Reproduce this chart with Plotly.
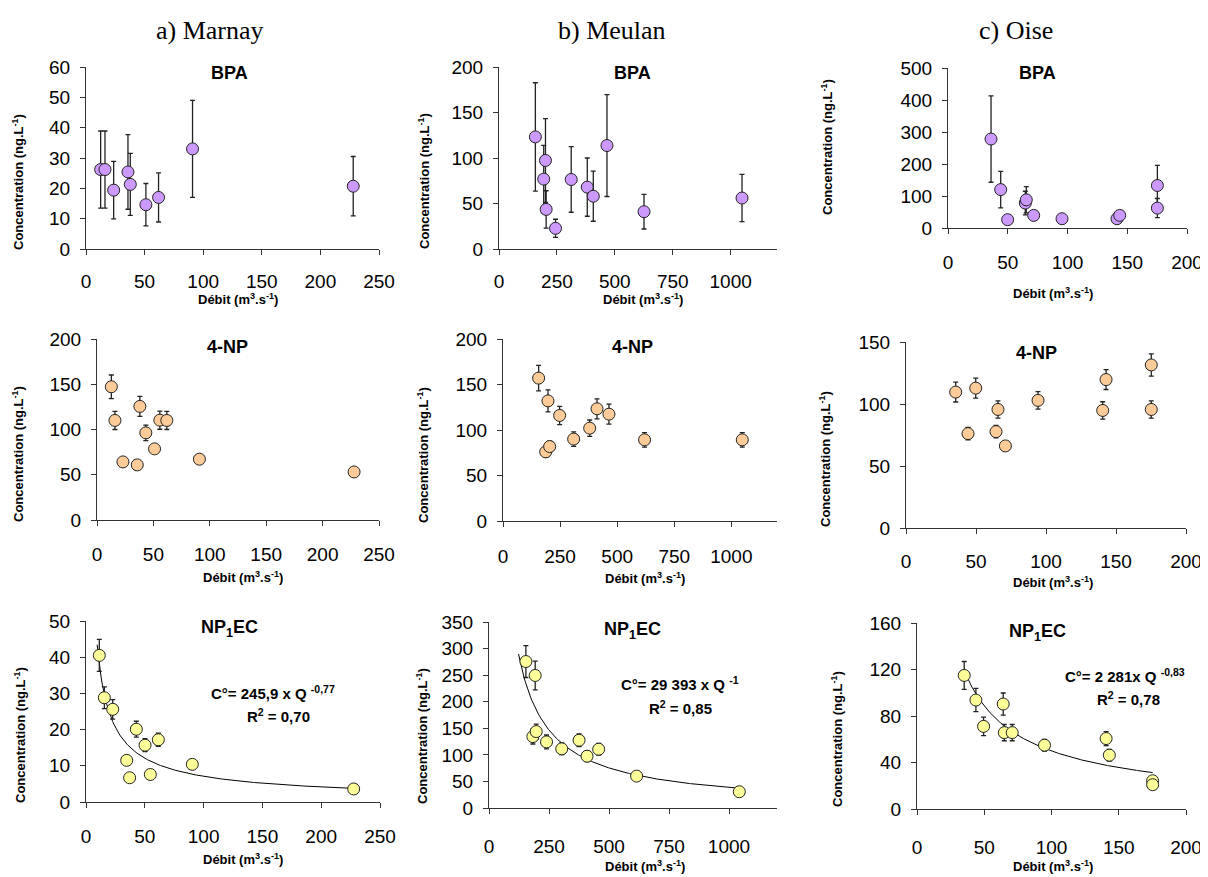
import numpy as np
import plotly.graph_objects as go

W, H = 1208, 877          # page size
OFF = 8                   # page offset of the plot div (body margin)
FW, FH = W - OFF, H - OFF

# ---------------- data ----------------
sites = ["a) Marnay", "b) Meulan", "c) Oise"]
compounds = ["BPA", "4-NP", "NP<sub>1</sub>EC"]

marnay_bpa_q = [12.5, 16.2, 23.6, 35.8, 37.8, 51.1, 61.9, 90.9, 228]
marnay_bpa_c = [26.2, 26.2, 19.4, 25.4, 21.3, 14.6, 17.0, 33.0, 20.7]
marnay_bpa_e = [12.7, 12.7, 9.5, 12.3, 10.2, 7.0, 8.1, 16.0, 9.8]

marnay_np_q = [12.7, 15.9, 23.0, 35.7, 38.0, 43.3, 51.0, 55.7, 61.9, 90.8, 227.9]
marnay_np_c = [147.2, 110.0, 64.2, 60.9, 125.5, 96.3, 78.6, 110.3, 110.0, 67.2, 53.1]
marnay_np_e = [13, 10, 4, 4, 11, 8.5, 5, 10, 10, 4, 3]

marnay_ec_q = [11.3, 15.6, 22.7, 34.6, 37.1, 42.8, 50.2, 54.7, 61.5, 90.4, 227.6]
marnay_ec_c = [40.5, 28.8, 25.6, 11.5, 6.7, 20.1, 15.7, 7.6, 17.2, 10.4, 3.6]
marnay_ec_e = [4.4, 3.0, 2.7, 1.0, 0.6, 2.2, 1.8, 0.7, 1.8, 1.0, 0.3]

meulan_bpa_q = [157, 193, 200.6, 203.5, 244, 311.7, 381, 407, 466, 626, 1049]
meulan_bpa_c = [123.2, 76.8, 97.3, 43.5, 22.7, 76.4, 68, 58, 113.7, 41, 56]
meulan_bpa_e = [59.5, 37, 46, 20.5, 10, 36, 32, 27.5, 56, 19, 26]

meulan_np_q = [156, 187, 197, 204.4, 248, 309.5, 379.6, 411.7, 464, 620, 1048]
meulan_np_c = [157, 76, 132, 81.8, 116, 90, 102, 123.3, 117.4, 89.2, 89.2]
meulan_np_e = [14, 6, 12, 6, 10, 8, 9, 11, 11, 8, 8]

meulan_ec_q = [153.7, 182.8, 192.5, 196.7, 239.6, 303, 375.3, 408.6, 457, 615, 1043]
meulan_ec_c = [275.6, 134.4, 249.4, 143.8, 124.4, 111.3, 127.5, 97.5, 110.6, 60, 30.6]
meulan_ec_e = [30, 14, 27, 14, 13, 11, 12, 10, 11, 6, 3]

oise_bpa_q = [36, 44.1, 49.9, 64.7, 65.5, 71.7, 95.4, 141.4, 143.7, 175.2, 175.2]
oise_bpa_c = [278, 120, 26, 77.8, 88, 39.4, 29, 29, 39.4, 132.8, 62.2]
oise_bpa_e = [135, 57, 5, 37, 41, 10, 6, 6, 8, 63, 30]

oise_np_q = [35.5, 44.3, 49.8, 64.3, 65.7, 71.0, 94.3, 140.5, 142.9, 175.2, 175.2]
oise_np_c = [109.6, 76.1, 112.8, 77.7, 95.6, 66.2, 102.9, 94.8, 119.7, 131.5, 95.6]
oise_np_e = [8, 5, 8, 5, 7, 3, 7, 7, 8, 9, 7]

oise_ec_q = [35.1, 43.8, 49.5, 64.1, 64.9, 70.8, 94.8, 140.6, 143.0, 175.2, 175.2]
oise_ec_c = [114.9, 93.7, 71.1, 90.3, 65.7, 65.7, 54.9, 60.6, 46.3, 24.3, 20.9]
oise_ec_e = [12, 10, 8, 9.5, 7, 7, 5, 6, 5, 2, 2]

# power-law trendlines C = a * Q^b (drawn curves) and their labels
fit_a = [245.9, 29393, 2281]
fit_b = [-0.77, -0.96, -0.83]
fit_qmin = [9.5, 123, 35.5]
fit_qmax = [228, 1043, 175.2]
fit_eq = ["C°= 245,9 x Q <sup>-0,77</sup>", "C°= 29 393 x Q <sup>-1</sup>", "C°= 2 281x Q <sup>-0,83</sup>"]
fit_r2 = ["R<sup>2</sup> = 0,70", "R<sup>2</sup> = 0,85", "R<sup>2</sup> = 0,78"]

x_max = [250, 1200, 200]
x_dtick = [50, 250, 50]
y_max = [[60, 200, 50], [200, 200, 350], [500, 150, 160]]   # [site][compound]
y_dtick = [[10, 50, 10], [50, 50, 50], [100, 50, 40]]

panel_data = [
    [(marnay_bpa_q, marnay_bpa_c, marnay_bpa_e), (marnay_np_q, marnay_np_c, marnay_np_e), (marnay_ec_q, marnay_ec_c, marnay_ec_e)],
    [(meulan_bpa_q, meulan_bpa_c, meulan_bpa_e), (meulan_np_q, meulan_np_c, meulan_np_e), (meulan_ec_q, meulan_ec_c, meulan_ec_e)],
    [(oise_bpa_q, oise_bpa_c, oise_bpa_e), (oise_np_q, oise_np_c, oise_np_e), (oise_ec_q, oise_ec_c, oise_ec_e)],
]

# ---------------- layout geometry (page pixels) ----------------
rects = [
    [(86, 379, 67, 249), (97, 379, 339, 520), (86, 380, 621, 802)],
    [(499, 777, 67, 249), (503, 777, 339, 521), (489, 777, 622, 808)],
    [(948, 1187, 68, 228), (906, 1186, 342, 528), (917, 1186, 623, 809)],
]
xlab_standoff = [[10, 12, 12], [10, 13, 16], [12, 11, 16]]
title_pos = [
    [(229, 73), (227, 347), (229, 628)],
    [(632, 73), (632, 347), (632, 630)],
    [(1037, 73), (1036, 353), (1037, 632)],
]
ytitle_pos = [
    [(18, 182), (18, 454), (20, 735)],
    [(424, 181), (423, 455), (422, 736)],
    [(827, 147), (825, 459), (837, 739)],
]
xtitle_pos = [
    [(238, 299), (243, 577), (243, 859)],
    [(643, 299), (645, 578), (645, 866)],
    [(1053, 293), (1053, 582), (1053, 866)],
]
header_pos = [(210, 31), (612, 31), (1016, 31)]
eq_pos = [(273, 692), (680, 683), (1125, 675)]
r2_pos = [(278, 715), (680, 707), (1128, 698)]

colors = ["#CC99FF", "#FFCC99", "#FFFF99"]
FONT = "Liberation Sans, Arial, sans-serif"


def px(x):
    return (x - OFF) / FW


def py(y):
    return 1 - (y - OFF) / FH


fig = go.Figure()
annotations = []
layout = {}

k = 0
for s in range(3):
    for c in range(3):
        k += 1
        xa = "x" if k == 1 else f"x{k}"
        ya = "y" if k == 1 else f"y{k}"
        x0, x1, yt, yb = rects[s][c]
        q, v, e = panel_data[s][c]

        if c == 2:
            qq = np.linspace(fit_qmin[s], fit_qmax[s], 200)
            fig.add_trace(go.Scatter(
                x=qq, y=fit_a[s] * qq ** fit_b[s], mode="lines",
                line=dict(color="black", width=1), xaxis=xa, yaxis=ya,
                showlegend=False, hoverinfo="skip"))

        fig.add_trace(go.Scatter(
            x=q, y=v, mode="markers", xaxis=xa, yaxis=ya, showlegend=False,
            cliponaxis=False,
            marker=dict(size=12, color=colors[c], line=dict(color="#222222", width=1)),
            error_y=dict(type="data", array=e, visible=True, color="#222222",
                         thickness=1.3, width=2.5)))

        common = dict(showgrid=False, zeroline=False, showline=True,
                      linecolor="#333333", linewidth=1, ticks="outside",
                      ticklen=5, tickcolor="#333333", automargin=False,
                      tickfont=dict(family=FONT, size=19, color="black"))
        layout["xaxis" if k == 1 else f"xaxis{k}"] = dict(
            domain=[px(x0), px(x1)], anchor=ya, range=[0, x_max[s]],
            tickmode="linear", tick0=0, dtick=x_dtick[s],
            ticklabelstandoff=xlab_standoff[s][c], **common)
        layout["yaxis" if k == 1 else f"yaxis{k}"] = dict(
            domain=[py(yb), py(yt)], anchor=xa, range=[0, y_max[s][c]],
            tickmode="linear", tick0=0, dtick=y_dtick[s][c],
            ticklabelstandoff=6, **common)

        tx, ty = title_pos[s][c]
        annotations.append(dict(x=px(tx), y=py(ty), xref="paper", yref="paper",
                                text=f"<b>{compounds[c]}</b>", showarrow=False,
                                xanchor="center", yanchor="middle",
                                font=dict(family=FONT, size=18, color="black")))
        ax, ay = ytitle_pos[s][c]
        annotations.append(dict(x=px(ax), y=py(ay), xref="paper", yref="paper",
                                text="<b>Concentration (ng.L<sup>-1</sup>)</b>",
                                showarrow=False, textangle=-90,
                                xanchor="center", yanchor="middle",
                                font=dict(family=FONT, size=13, color="black")))
        bx, by = xtitle_pos[s][c]
        annotations.append(dict(x=px(bx), y=py(by), xref="paper", yref="paper",
                                text="<b>Débit (m<sup>3</sup>.s<sup>-1</sup>)</b>",
                                showarrow=False, xanchor="center", yanchor="middle",
                                font=dict(family=FONT, size=13, color="black")))

    hx, hy = header_pos[s]
    annotations.append(dict(x=px(hx), y=py(hy), xref="paper", yref="paper",
                            text=sites[s], showarrow=False,
                            xanchor="center", yanchor="middle",
                            font=dict(family="Liberation Serif, Times New Roman, serif",
                                      size=26, color="black")))
    ex, ey = eq_pos[s]
    annotations.append(dict(x=px(ex), y=py(ey), xref="paper", yref="paper",
                            text=f"<b>{fit_eq[s]}</b>", showarrow=False,
                            xanchor="center", yanchor="middle",
                            font=dict(family=FONT, size=15, color="black")))
    rx, ry = r2_pos[s]
    annotations.append(dict(x=px(rx), y=py(ry), xref="paper", yref="paper",
                            text=f"<b>{fit_r2[s]}</b>", showarrow=False,
                            xanchor="center", yanchor="middle",
                            font=dict(family=FONT, size=15, color="black")))

fig.update_layout(
    width=FW, height=FH, autosize=False,
    margin=dict(l=0, r=0, t=0, b=0),
    paper_bgcolor="white", plot_bgcolor="white",
    annotations=annotations, showlegend=False,
    **layout)

fig.write_html("out.html")
